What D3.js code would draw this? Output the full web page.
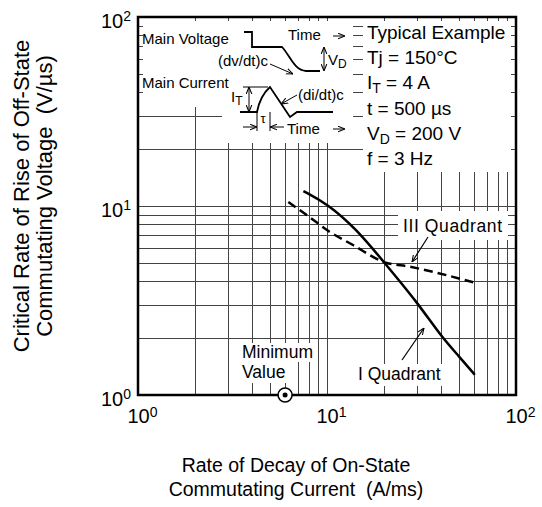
<!DOCTYPE html>
<html>
<head>
<meta charset="utf-8">
<script src="https://cdn.jsdelivr.net/npm/d3@7"></script>
<style>
body { margin: 0; background: #fff; }
text { font-family: "Liberation Sans", Arial, sans-serif; fill: #000; }
</style>
</head>
<body>
<div id="chart"></div>
<script>
// values
const quadrant1X = [7.5, 10, 14.4, 20, 30, 40, 50, 60.5];
const quadrant1Y = [12, 10.3, 7.5, 5.05, 3.1, 2.05, 1.6, 1.28];
const quadrant3X = [6.24, 8, 10, 13.8, 20, 27.5, 59.4];
const quadrant3Y = [10.5, 8.8, 7.46, 6.2, 5.05, 4.77, 3.95];
const minimumValueX = 6;
const gridValues = [2, 3, 4, 5, 6, 7, 8, 9, 10, 20, 30, 40, 50, 60, 70, 80, 90];
const decadeTicks = [1, 10, 100];
const conditions = [
    ["Typical Example"],
    ["Tj = 150°C"],
    ["I", "T", " = 4 A"],
    ["t  = 500 µs"],
    ["V", "D", " = 200 V"],
    ["f = 3 Hz"]
];

const width = 542, height = 507;
const pLeft = 138, pRight = 516, pTop = 17, pBottom = 395;

const svg = d3.select("#chart").append("svg")
    .attr("width", width)
    .attr("height", height);

const defs = svg.append("defs");
defs.append("marker")
    .attr("id", "arrow")
    .attr("viewBox", "0 0 10 10")
    .attr("refX", 10).attr("refY", 5)
    .attr("markerWidth", 7).attr("markerHeight", 7)
    .attr("markerUnits", "userSpaceOnUse")
    .attr("orient", "auto-start-reverse")
    .append("path")
    .attr("d", "M0,1 L10,5 L0,9")
    .attr("fill", "none")
    .attr("stroke", "#000")
    .attr("stroke-width", 1.5);

const x = d3.scaleLog().domain([1, 100]).range([pLeft, pRight]);
const y = d3.scaleLog().domain([1, 100]).range([pBottom, pTop]);

// grid
const grid = svg.append("g").attr("stroke", "#444").attr("stroke-width", 1);
grid.selectAll(".vx").data(gridValues).enter().append("line")
    .attr("x1", d => Math.round(x(d)) + 0.5).attr("x2", d => Math.round(x(d)) + 0.5)
    .attr("y1", pTop).attr("y2", pBottom);
grid.selectAll(".hy").data(gridValues).enter().append("line")
    .attr("y1", d => Math.round(y(d)) + 0.5).attr("y2", d => Math.round(y(d)) + 0.5)
    .attr("x1", pLeft).attr("x2", pRight);

// white areas where the grid is hidden behind the notes
const masks = [
    [143, 21, 222, 107],
    [222, 21, 353, 143],
    [363, 21, 511, 172],
    [398, 211, 508, 240],
    [238, 343, 316, 362],
    [238, 362, 290, 383],
    [354, 364, 446, 386]
];
svg.append("g").selectAll("rect").data(masks).enter().append("rect")
    .attr("x", d => d[0]).attr("y", d => d[1])
    .attr("width", d => d[2] - d[0]).attr("height", d => d[3] - d[1])
    .attr("fill", "#fff");

// frame
svg.append("rect")
    .attr("x", pLeft).attr("y", pTop)
    .attr("width", pRight - pLeft).attr("height", pBottom - pTop)
    .attr("fill", "none")
    .attr("stroke", "#000")
    .attr("stroke-width", 2.5);

// axis labels 10^n
const supLabel = (sel) => {
    sel.selectAll(".tick text").each(function(d) {
        const t = d3.select(this);
        t.text("10");
        t.append("tspan")
            .attr("dy", "-0.45em")
            .style("font-size", "14px")
            .text(Math.round(Math.log10(d)));
    });
};

svg.append("g")
    .attr("transform", `translate(0,${pBottom})`)
    .call(d3.axisBottom(x).tickValues(decadeTicks).tickSize(0).tickPadding(9))
    .call(g => g.select(".domain").remove())
    .call(g => g.selectAll("text").style("font-size", "20px").attr("dy", "0.95em")
        .attr("font-family", null))
    .call(supLabel)
    .call(g => g.selectAll(".tick text").attr("dx", "4"));

svg.append("g")
    .attr("transform", `translate(${pLeft},0)`)
    .call(d3.axisLeft(y).tickValues(decadeTicks).tickSize(0).tickPadding(7))
    .call(g => g.select(".domain").remove())
    .call(g => g.selectAll("text").style("font-size", "20px").attr("dy", "0.5em")
        .attr("font-family", null))
    .call(supLabel);

// curves
const line = d3.line()
    .x(d => x(d[0]))
    .y(d => y(d[1]))
    .curve(d3.curveBasis);

svg.append("path")
    .datum(quadrant1X.map((v, i) => [v, quadrant1Y[i]]))
    .attr("d", line)
    .attr("fill", "none")
    .attr("stroke", "#000")
    .attr("stroke-width", 2.5);

svg.append("path")
    .datum(quadrant3X.map((v, i) => [v, quadrant3Y[i]]))
    .attr("d", line.curve(d3.curveMonotoneX))
    .attr("fill", "none")
    .attr("stroke", "#000")
    .attr("stroke-width", 2.5)
    .attr("stroke-dasharray", "9,5");

// minimum value marker
svg.append("circle")
    .attr("cx", x(minimumValueX)).attr("cy", pBottom)
    .attr("r", 7)
    .attr("fill", "#fff").attr("stroke", "#000").attr("stroke-width", 1.5);
svg.append("circle")
    .attr("cx", x(minimumValueX)).attr("cy", pBottom)
    .attr("r", 2.5)
    .attr("fill", "#000");

// curve notes
const note = (tx, ty, str) => svg.append("text")
    .attr("x", tx).attr("y", ty)
    .style("font-size", "17.5px")
    .text(str);
note(403, 232, "III Quadrant").attr("textLength", 99);
note(358, 380, "I Quadrant");
note(242, 358, "Minimum");
note(242, 378, "Value");

const leader = (x1, y1, x2, y2) => svg.append("line")
    .attr("x1", x1).attr("y1", y1).attr("x2", x2).attr("y2", y2)
    .attr("stroke", "#000").attr("stroke-width", 1.2)
    .attr("marker-end", "url(#arrow)");
leader(428, 237, 412, 262);
leader(402, 360, 424, 328);

// test conditions
const cond = svg.append("g").style("font-size", "19px");
conditions.forEach((c, i) => {
    const t = cond.append("text").attr("x", 367).attr("y", 39 + i * 25.2);
    if (c.length === 1) {
        t.text(c[0]);
    } else {
        t.append("tspan").text(c[0]);
        t.append("tspan").attr("dy", 4).style("font-size", "14px").text(c[1]);
        t.append("tspan").attr("dy", -4).text(c[2]);
    }
});

// waveform sketch
const sketch = svg.append("g")
    .attr("fill", "none")
    .attr("stroke", "#000");
const small = (tx, ty, str) => svg.append("text")
    .attr("x", tx).attr("y", ty)
    .style("font-size", "15px")
    .text(str);

small(142, 44, "Main Voltage");
small(288, 40, "Time");
small(218, 66, "(dv/dt)c");
small(142, 88, "Main Current");
small(298, 100, "(di/dt)c");
small(287, 134, "Time");
svg.append("text").attr("x", 263).attr("y", 123).attr("text-anchor", "middle")
    .style("font-size", "13px").text("τ");
const vd = svg.append("text").attr("x", 328).attr("y", 65).style("font-size", "15px");
vd.append("tspan").text("V");
vd.append("tspan").attr("dy", 3).style("font-size", "12px").text("D");
const it = svg.append("text").attr("x", 231).attr("y", 102).style("font-size", "15px");
it.append("tspan").text("I");
it.append("tspan").attr("dy", 3).style("font-size", "12px").text("T");

sketch.append("path").attr("stroke-width", 1.8)
    .attr("d", "M244,32 H252 V47 H282 C291,57 294,70 306,71 H320");
sketch.append("path").attr("stroke-width", 1.8)
    .attr("d", "M240,112 H257 Q260,96 270,87 L290,117 L297,112 H333");
sketch.append("path").attr("stroke-width", 1)
    .attr("d", "M243,87 H268 M257,112 V131 M270,112 V131");
const arrows = [
    [249, 99, 249, 87], [249, 99, 249, 112],
    [324, 59, 324, 47], [324, 59, 324, 71],
    [243, 127, 257, 127], [284, 127, 270, 127],
    [333, 36, 345, 36], [333, 129, 345, 129],
    [270, 64, 293, 74], [297, 95, 281, 104]
];
sketch.selectAll(".arr").data(arrows).enter().append("line")
    .attr("x1", d => d[0]).attr("y1", d => d[1])
    .attr("x2", d => d[2]).attr("y2", d => d[3])
    .attr("stroke-width", 1)
    .attr("marker-end", "url(#arrow)");

// axis titles
const yTitle = svg.append("g").style("font-size", "22px").attr("text-anchor", "middle");
yTitle.append("text").attr("transform", "translate(29,196) rotate(-90)")
    .text("Critical Rate of Rise of Off-State");
yTitle.append("text").attr("transform", "translate(52,196) rotate(-90)")
    .text("Commutating Voltage\u00a0\u00a0(V/µs)");

const xTitle = svg.append("g").style("font-size", "19.5px").attr("text-anchor", "middle");
xTitle.append("text").attr("x", 296).attr("y", 472).text("Rate of Decay of On-State");
xTitle.append("text").attr("x", 296).attr("y", 496).text("Commutating Current\u00a0\u00a0(A/ms)");
</script>
</body>
</html>
